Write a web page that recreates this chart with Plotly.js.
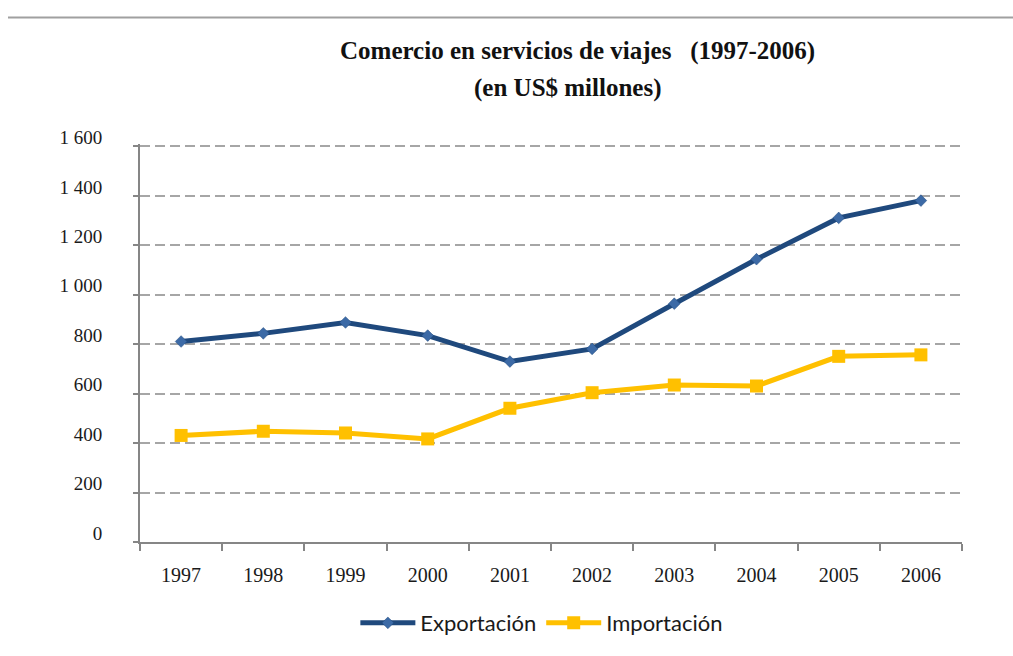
<!DOCTYPE html>
<html>
<head>
<meta charset="utf-8">
<script src="https://cdn.plot.ly/plotly-3.0.1.min.js"></script>
<style>
  html, body { margin: 0; padding: 0; background: #ffffff; }
  #chart { width: 1013px; height: 656px; }
</style>
</head>
<body>
<div id="chart"></div>
<script>
const years = ["1997", "1998", "1999", "2000", "2001", "2002", "2003", "2004", "2005", "2006"];
const exportacion = [811, 844, 888, 835, 730, 781, 964, 1144, 1311, 1381];
const importacion = [431, 448, 441, 417, 541, 604, 635, 631, 751, 757];
const seriesNames = ["Exportación", "Importación"];
const titleLine1 = "<b>Comercio en servicios de viajes &nbsp;&nbsp;(1997-2006)</b>";
const titleLine2 = "<b>(en US$ millones)</b>";
const yTicks = [0, 200, 400, 600, 800, 1000, 1200, 1400, 1600];

const serif = "Liberation Serif";

const traces = [
  {
    type: "scatter", mode: "lines+markers", name: seriesNames[0],
    x: years, y: exportacion,
    line: { color: "#1F497D", width: 5 },
    marker: { symbol: "diamond", size: 9, color: "#3C6AA6", line: { color: "#1F497D", width: 0.5 } }
  },
  {
    type: "scatter", mode: "lines+markers", name: seriesNames[1],
    x: years, y: importacion,
    line: { color: "#FFC000", width: 5 },
    marker: { symbol: "square", size: 13, color: "#FFC000" }
  }
];

const layout = {
  width: 1013, height: 656,
  margin: { l: 140, r: 51, t: 143.5, b: 110 },
  paper_bgcolor: "#ffffff", plot_bgcolor: "#ffffff",
  showlegend: true,
  separators: ", ",
  xaxis: {
    type: "category",
    range: [-0.5, 9.5],
    showline: true, linecolor: "#868686", linewidth: 2,
    ticks: "outside", ticklen: 7, tickwidth: 2, tickcolor: "#868686",
    tickson: "boundaries",
    showgrid: false, zeroline: false,
    ticklabelstandoff: 14,
    tickfont: { family: serif, size: 20, color: "#1a1a1a" }
  },
  yaxis: {
    range: [0, 1610],
    tickvals: yTicks,
    separatethousands: true,
    showline: true, linecolor: "#868686", linewidth: 2,
    ticks: "outside", ticklen: 5, tickwidth: 2, tickcolor: "#868686",
    showgrid: true, gridcolor: "#A6A6A6", gridwidth: 2, griddash: "10px,5px",
    zeroline: false,
    ticklabelstandoff: 27,
    ticklabelshift: -9,
    tickfont: { family: serif, size: 19, color: "#1a1a1a" }
  },
  legend: {
    orientation: "h",
    x: 0.262, xanchor: "left",
    y: -0.2037, yanchor: "middle",
    bgcolor: "rgba(0,0,0,0)",
    itemwidth: 55,
    font: { family: "Lato", size: 22, color: "#1a1a1a" }
  },
  annotations: [
    { text: titleLine1, xref: "paper", yref: "paper", x: 0.532, y: 1.2348,
      xanchor: "center", yanchor: "middle", showarrow: false,
      font: { family: serif, size: 25, color: "#111111" } },
    { text: titleLine2, xref: "paper", yref: "paper", x: 0.5207, y: 1.1404,
      xanchor: "center", yanchor: "middle", showarrow: false,
      font: { family: serif, size: 25, color: "#111111" } }
  ],
  shapes: [
    { type: "line", xref: "paper", yref: "paper", x0: -0.1606, x1: 1.07, y0: 1.318, y1: 1.318,
      line: { color: "#A0A0A0", width: 2 } }
  ]
};

Plotly.newPlot("chart", traces, layout, { displayModeBar: false, staticPlot: true });
</script>
</body>
</html>
